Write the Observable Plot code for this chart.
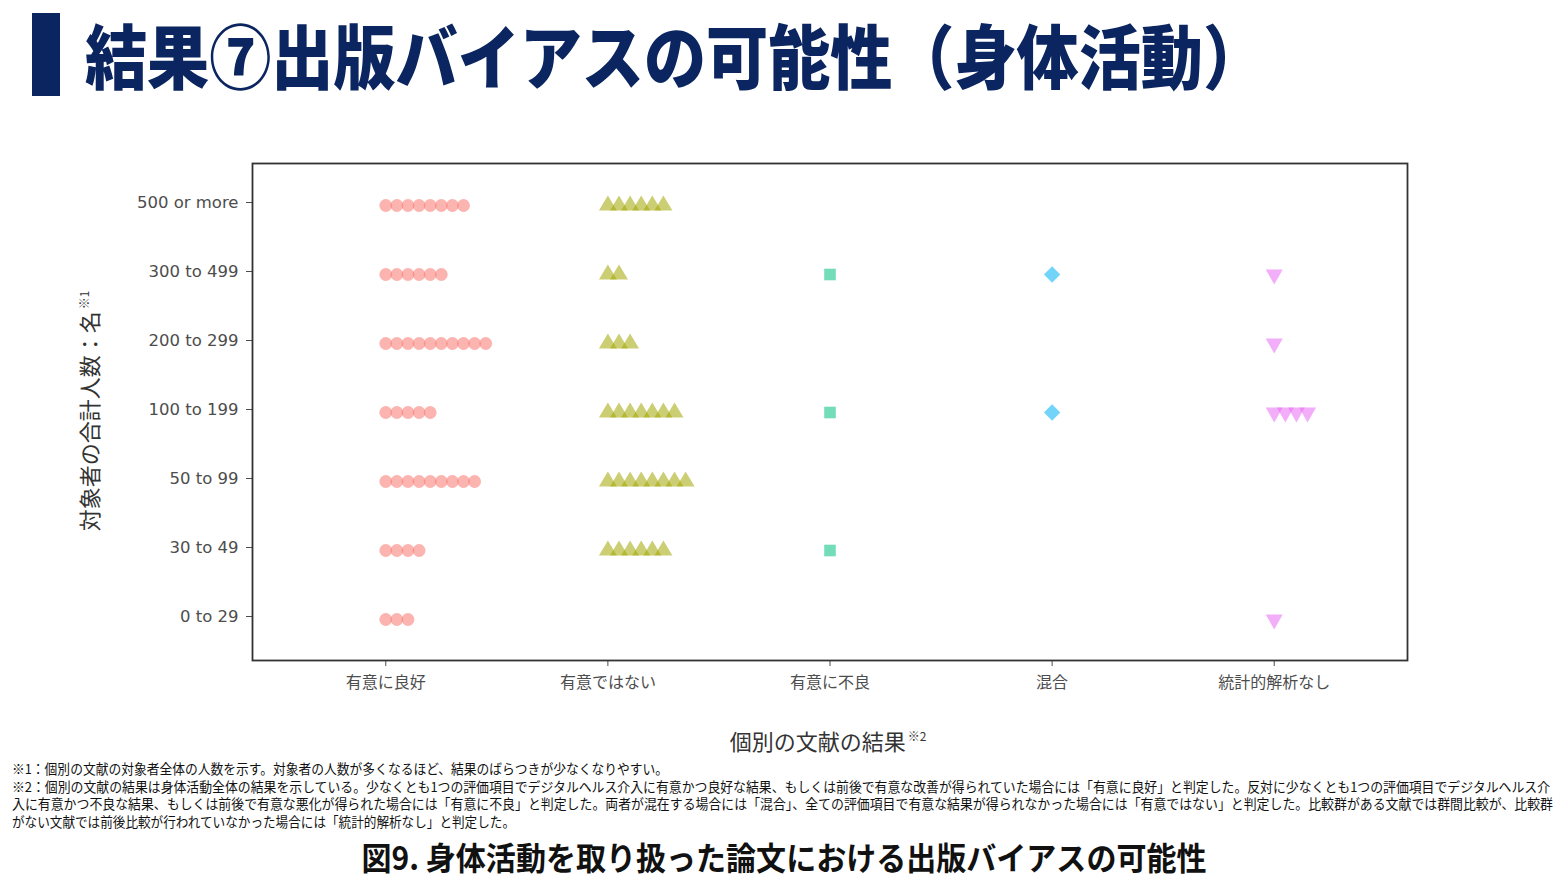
<!DOCTYPE html>
<html><head><meta charset="utf-8">
<script src="https://cdn.jsdelivr.net/npm/d3@7"></script>
<script src="https://cdn.jsdelivr.net/npm/@observablehq/plot@0.6"></script>
<style>
body{margin:0;background:#fff;width:1568px;height:882px;position:relative;overflow:hidden;font-family:"Noto Sans CJK JP","Noto Sans",sans-serif;}
#bar{position:absolute;left:32px;top:13px;width:28px;height:83px;background:#0b2560;}
#title{position:absolute;left:85px;top:54px;font-size:70px;font-weight:900;color:#0b2560;white-space:nowrap;line-height:1;transform-origin:0 50%;}
#chart{position:absolute;left:0;top:110px;}
#chart g[aria-label="y-axis tick label"] text{font-family:"DejaVu Sans",Verdana,sans-serif !important;}
#ylab{position:absolute;left:88px;top:411px;transform:translate(-50%,-50%) rotate(-90deg);font-size:22px;color:#333;white-space:nowrap;line-height:1;}
#xlab{position:absolute;left:828px;top:740px;transform:translate(-50%,-50%);font-size:22px;color:#333;white-space:nowrap;line-height:1;}
.sup{font-size:12px;position:relative;top:-9px;margin-left:2px;}
.fn{position:absolute;left:12px;font-size:13.5px;white-space:nowrap;transform-origin:0 50%;color:#111;line-height:1;}
#cap{position:absolute;left:784px;top:856px;font-size:32px;font-weight:700;white-space:nowrap;color:#111;line-height:1;}
</style></head>
<body>
<div id="bar"></div>
<div id="title" class="fit" data-w="1180">結果⑦出版バイアスの可能性（身体活動）</div>
<div id="chart"></div>
<div id="ylab">対象者の合計人数：名<span class="sup">※1</span></div>
<div id="xlab">個別の文献の結果<span class="sup">※2</span></div>
<div class="fn fit" data-w="656" style="top:769px">※1：個別の文献の対象者全体の人数を示す。対象者の人数が多くなるほど、結果のばらつきが少なくなりやすい。</div>
<div class="fn fit" data-w="1538" style="top:787px">※2：個別の文献の結果は身体活動全体の結果を示している。少なくとも1つの評価項目でデジタルヘルス介入に有意かつ良好な結果、もしくは前後で有意な改善が得られていた場合には「有意に良好」と判定した。反対に少なくとも1つの評価項目でデジタルヘルス介</div>
<div class="fn fit" data-w="1541" style="top:804px">入に有意かつ不良な結果、もしくは前後で有意な悪化が得られた場合には「有意に不良」と判定した。両者が混在する場合には「混合」、全ての評価項目で有意な結果が得られなかった場合には「有意ではない」と判定した。比較群がある文献では群間比較が、比較群</div>
<div class="fn fit" data-w="503" style="top:822px">がない文献では前後比較が行われていなかった場合には「統計的解析なし」と判定した。</div>
<div id="cap" class="fitc" data-w="845">図9. 身体活動を取り扱った論文における出版バイアスの可能性</div>
<script>
// ---- data ----
const yCats = ["0 to 29", "30 to 49", "50 to 99", "100 to 199", "200 to 299", "300 to 499", "500 or more"];
const xCats = ["有意に良好", "有意ではない", "有意に不良", "混合", "統計的解析なし"];
// number of papers per sample-size band (same order as yCats)
const countGood   = [3, 4, 9, 5, 10, 6, 8];
const countNotSig = [0, 6, 8, 7, 3, 2, 6];
const countBad    = [0, 1, 0, 1, 0, 1, 0];
const countMixed  = [0, 0, 0, 1, 0, 1, 0];
const countNoStat = [1, 0, 0, 4, 1, 1, 0];

// ---- styles ----
const seriesCounts = [countGood, countNotSig, countBad, countMixed, countNoStat];
const colors = ["#F8766D", "#A3A500", "#00BF7D", "#00B0F6", "#E76BF3"];
const STEP = 0.05; // stacking offset in category units
const triUp = {draw(c, size){const r=Math.sqrt(size/Math.PI), h=r*1.65; c.moveTo(0,-2*h/3); c.lineTo(r,h/3); c.lineTo(-r,h/3); c.closePath();}};
const triDown = {draw(c, size){const r=Math.sqrt(size/Math.PI), h=r*1.75; c.moveTo(0,2*h/3); c.lineTo(r,-h/3); c.lineTo(-r,-h/3); c.closePath();}};
const diamond = {draw(c, size){const r=Math.sqrt(size/Math.PI); c.moveTo(0,-r); c.lineTo(r,0); c.lineTo(0,r); c.lineTo(-r,0); c.closePath();}};
const square = {draw(c, size){const r=Math.sqrt(size/Math.PI); c.moveTo(-r,-r); c.lineTo(r,-r); c.lineTo(r,r); c.lineTo(-r,r); c.closePath();}};
const symbols = ["circle", triUp, square, diamond, triDown];
const radii = [6.4, 9, 5.8, 8.2, 8.5];

function rowsFor(k){
  const out = [];
  seriesCounts[k].forEach((n, j) => { for (let i = 0; i < n; i++) out.push({cat: k, i, band: yCats[j]}); });
  return out;
}

const dots = seriesCounts.map((_, k) => Plot.dot(rowsFor(k), {
  x: d => d.cat + d.i * STEP, y: "band",
  symbol: symbols[k], r: radii[k], fill: colors[k], fillOpacity: 0.55, stroke: "none"
}));

const chart = Plot.plot({
  width: 1568, height: 650,
  marginTop: 53, marginBottom: 100, marginLeft: 252, marginRight: 161,
  x: {type: "linear", domain: [-0.6, xCats.length - 0.4]},
  y: {type: "point", domain: yCats.slice().reverse(), padding: 0.6},
  style: {background: "white", overflow: "visible"},
  marks: [
    Plot.axisX({ticks: d3.range(xCats.length), tickFormat: i => xCats[i], tickSize: 6, tickPadding: 10,
      fontSize: 16, fontFamily: "Noto Sans CJK JP", color: "#4d4d4d", label: null}),
    Plot.axisY({tickSize: 6, tickPadding: 8, fontSize: 16.5, dy: -3, fontFamily: "DejaVu Sans", color: "#4d4d4d", label: null}),
    ...dots,
    Plot.frame({stroke: "#333", strokeWidth: 1.8})
  ]
});
document.getElementById("chart").appendChild(chart);

// fit text widths to the reference layout
document.querySelectorAll(".fit").forEach(el => {
  const w = el.getBoundingClientRect().width;
  const s = (+el.dataset.w) / w;
  el.style.transform = `translateY(-50%) scaleX(${s})`;
});
document.querySelectorAll(".fitc").forEach(el => {
  const w = el.getBoundingClientRect().width;
  const s = (+el.dataset.w) / w;
  el.style.transform = `translate(-50%,-50%) scaleX(${s})`;
});
</script>
</body></html>
